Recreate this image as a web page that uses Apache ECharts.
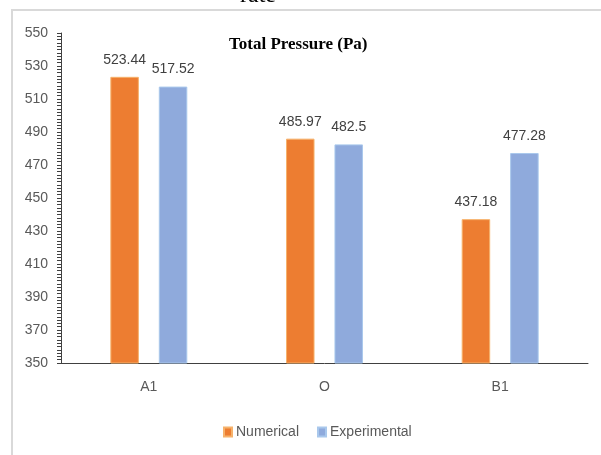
<!DOCTYPE html>
<html>
<head>
<meta charset="utf-8">
<script src="https://cdn.jsdelivr.net/npm/echarts@6/dist/echarts.min.js"></script>
<style>
  html, body { margin: 0; padding: 0; background: #ffffff; }
  #chart { width: 601px; height: 455px; }
</style>
</head>
<body>
<div id="chart"></div>
<script>
// Measurement points and total pressure values (Pa)
const categories = ['A1', 'O', 'B1'];
const numerical = [523.44, 485.97, 437.18];
const experimental = [517.52, 482.5, 477.28];
const seriesNames = ['Numerical', 'Experimental'];

const labelFont = '"Liberation Sans", Arial, sans-serif';

const chart = echarts.init(document.getElementById('chart'), null, { renderer: 'canvas' });

chart.setOption({
  backgroundColor: '#ffffff',
  animation: false,
  graphic: [
    {
      type: 'rect',
      shape: { x: 12, y: 10, width: 700, height: 600 },
      style: { fill: 'none', stroke: '#d9d9d9', lineWidth: 2 },
      silent: true
    },
    {
      type: 'text',
      left: 240,
      top: -16,
      style: {
        text: 'rate',
        font: '24px "Liberation Serif", "Times New Roman", serif',
        fill: '#000000'
      },
      silent: true
    }
  ],
  title: {
    text: 'Total Pressure (Pa)',
    left: 224,
    top: 31,
    textStyle: {
      fontFamily: '"Liberation Serif", "Times New Roman", serif',
      fontWeight: 'bold',
      fontSize: 17,
      color: '#000000'
    }
  },
  legend: {
    data: seriesNames,
    bottom: 11,
    left: 218,
    itemWidth: 8,
    itemHeight: 9,
    itemGap: 18,
    icon: 'rect',
    textStyle: {
      fontFamily: labelFont,
      fontSize: 14,
      color: '#595959',
      padding: [0, 0, 0, -1]
    }
  },
  grid: {
    left: 61,
    right: 13,
    top: 33,
    bottom: 92,
    containLabel: false
  },
  xAxis: {
    type: 'category',
    data: categories,
    axisLine: { show: true, lineStyle: { color: '#404040', width: 1 } },
    axisTick: { show: false },
    axisLabel: {
      margin: 17,
      fontFamily: labelFont,
      fontSize: 14,
      color: '#595959'
    }
  },
  yAxis: {
    type: 'value',
    min: 350,
    max: 550,
    interval: 20,
    axisLine: { show: true, lineStyle: { color: '#404040', width: 1 } },
    axisTick: { show: true, length: 4, lineStyle: { color: '#404040' } },
    minorTick: { show: true, splitNumber: 10, length: 4, lineStyle: { color: '#404040' } },
    splitLine: { show: false },
    axisLabel: {
      margin: 13,
      fontFamily: labelFont,
      fontSize: 14,
      color: '#595959'
    }
  },
  series: [
    {
      name: seriesNames[0],
      type: 'bar',
      data: numerical,
      barWidth: 28.5,
      barGap: '70%',
      itemStyle: { color: '#ED7D31', borderColor: '#F6B26B', borderWidth: 1 },
      label: {
        show: true,
        position: 'top',
        distance: 10,
        fontFamily: labelFont,
        fontSize: 14,
        color: '#404040'
      }
    },
    {
      name: seriesNames[1],
      type: 'bar',
      data: experimental,
      barWidth: 28.5,
      itemStyle: { color: '#8FAADC', borderColor: '#A9C8EC', borderWidth: 1 },
      label: {
        show: true,
        position: 'top',
        distance: 10,
        fontFamily: labelFont,
        fontSize: 14,
        color: '#404040'
      }
    }
  ]
});
</script>
</body>
</html>
